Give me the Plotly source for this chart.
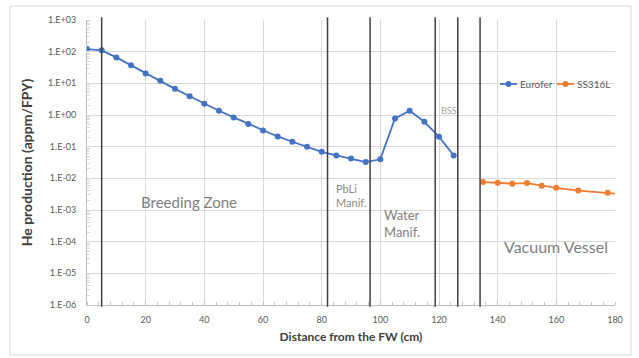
import math
import plotly.graph_objects as go

# Data
eurofer_x = [0, 5, 10, 15, 20, 25, 30, 35, 40, 45, 50, 55, 60, 65, 70, 75, 80, 85, 90, 95,
             100, 105, 110, 115, 120, 125]
eurofer_y = [121, 110, 66, 37, 20.6, 12, 6.7, 3.9, 2.26, 1.36, 0.84, 0.52, 0.326, 0.21, 0.143,
             0.10, 0.069, 0.053, 0.042, 0.0325, 0.040, 0.78, 1.36, 0.61, 0.206, 0.053]
ss_x = [135, 140, 145, 150, 155, 160, 167.5, 177.5, 187.5]
ss_y = [0.0076, 0.0072, 0.0068, 0.0071, 0.0058, 0.0050, 0.0041, 0.0035, 0.0029]
series_names = ["Eurofer", "SS316L"]
series_colors = ["#4472C4", "#ED7D31"]
boundaries = [5, 82, 96.5, 118.7, 126.4, 134]
y_tickvals = [1e-6, 1e-5, 1e-4, 1e-3, 1e-2, 1e-1, 1, 10, 100, 1000]
y_ticktext = ["1.E-06", "1.E-05", "1.E-04", "1.E-03", "1.E-02", "1.E-01",
              "1.E+00", "1.E+01", "1.E+02", "1.E+03"]
x_tickvals = [0, 20, 40, 60, 80, 100, 120, 140, 160, 180]
region_labels = ["Breeding Zone", "PbLi<br>Manif.", "Water<br>Manif.", "Vacuum Vessel", "BSS"]
region_x = [17.7, 84.2, 100.6, 141.4, 120.0]
region_y = [1.8e-3, 2.8e-3, 3.7e-4, 7.2e-5, 1.36]
region_size = [15, 11, 13, 16, 9]
region_color = ["#7f7f7f", "#8c8c8c", "#7f7f7f", "#7f7f7f", "#a6a6a6"]

FONT = "Lato"
W, H = 639, 358
ML, MR, MT, MB = 87, 24, 20, 53
PW, PH = W - ML - MR, H - MT - MB


def px_x(p):
    return (p - ML) / PW


def px_y(p):
    return (H - MB - p) / PH


fig = go.Figure()
for xs, ys, name, col in [(eurofer_x, eurofer_y, series_names[0], series_colors[0]),
                          (ss_x, ss_y, series_names[1], series_colors[1])]:
    fig.add_trace(go.Scatter(x=xs, y=ys, mode="lines+markers", name=name, showlegend=False,
                             line=dict(color=col, width=1.8),
                             marker=dict(color=col, size=6)))

for b in boundaries:
    fig.add_shape(type="line", xref="x", yref="paper", x0=b, x1=b, y0=-0.006, y1=1.01,
                  line=dict(color="#404040", width=1.5))

# annotations on a log axis take log10 positions
for t, x, y, s, c in zip(region_labels, region_x, region_y, region_size, region_color):
    fig.add_annotation(x=x, y=math.log10(y), xref="x", yref="y", text=t, showarrow=False,
                       xanchor="left", yanchor="middle", align="left",
                       font=dict(family=FONT, size=s, color=c))

# compact legend (line + marker + text), like the spreadsheet legend
leg_y = px_y(84)
for (l0, l1, tx), name, col in zip([(500, 517, 518), (557, 574, 575)], series_names, series_colors):
    fig.add_shape(type="line", xref="paper", yref="paper", x0=px_x(l0), x1=px_x(l1),
                  y0=leg_y, y1=leg_y, line=dict(color=col, width=1.8))
    fig.add_shape(type="circle", xref="paper", yref="paper", xsizemode="pixel", ysizemode="pixel",
                  xanchor=px_x((l0 + l1) / 2), yanchor=leg_y, x0=-3, x1=3, y0=-3, y1=3,
                  line=dict(color=col, width=0), fillcolor=col)
    fig.add_annotation(x=px_x(tx), y=leg_y, xref="paper", yref="paper", text=name,
                       showarrow=False, xanchor="left", yanchor="middle",
                       font=dict(family=FONT, size=10, color="#595959"))

# chart border
fig.add_shape(type="rect", xref="paper", yref="paper", x0=px_x(10), x1=px_x(631),
              y0=px_y(355), y1=px_y(6), line=dict(color="#d9d9d9", width=1), layer="below")

fig.update_layout(
    width=W, height=H,
    margin=dict(l=ML, r=MR, t=MT, b=MB, autoexpand=False),
    paper_bgcolor="white", plot_bgcolor="white",
    font=dict(family=FONT, color="#595959", size=9),
    showlegend=False,
)
fig.update_xaxes(range=[0, 180], tickvals=x_tickvals, showgrid=True, gridcolor="#d9d9d9",
                 gridwidth=1, zeroline=False, showline=True, linecolor="#bfbfbf", linewidth=1,
                 ticks="", ticklabelstandoff=6,
                 minor=dict(ticks="inside", dtick=4, ticklen=3, tickcolor="#bfbfbf", showgrid=False),
                 title=dict(text="<b>Distance from the FW (cm)</b>", standoff=8,
                            font=dict(family=FONT, size=12, color="#404040")),
                 tickfont=dict(family=FONT, size=9, color="#595959"))
fig.update_yaxes(type="log", range=[-6, 3], tickvals=y_tickvals, ticktext=y_ticktext,
                 showgrid=True, gridcolor="#d9d9d9", gridwidth=1, zeroline=False,
                 showline=True, linecolor="#bfbfbf", linewidth=1, ticks="",
                 ticklabelstandoff=8,
                 minor=dict(ticks="inside", dtick="D1", ticklen=3, tickcolor="#d9d9d9", showgrid=False),
                 title=dict(text="<b>He production (appm/FPY)</b>", standoff=12,
                            font=dict(family=FONT, size=14, color="#404040")),
                 tickfont=dict(family=FONT, size=9, color="#595959"))

fig.write_html("out.html")
